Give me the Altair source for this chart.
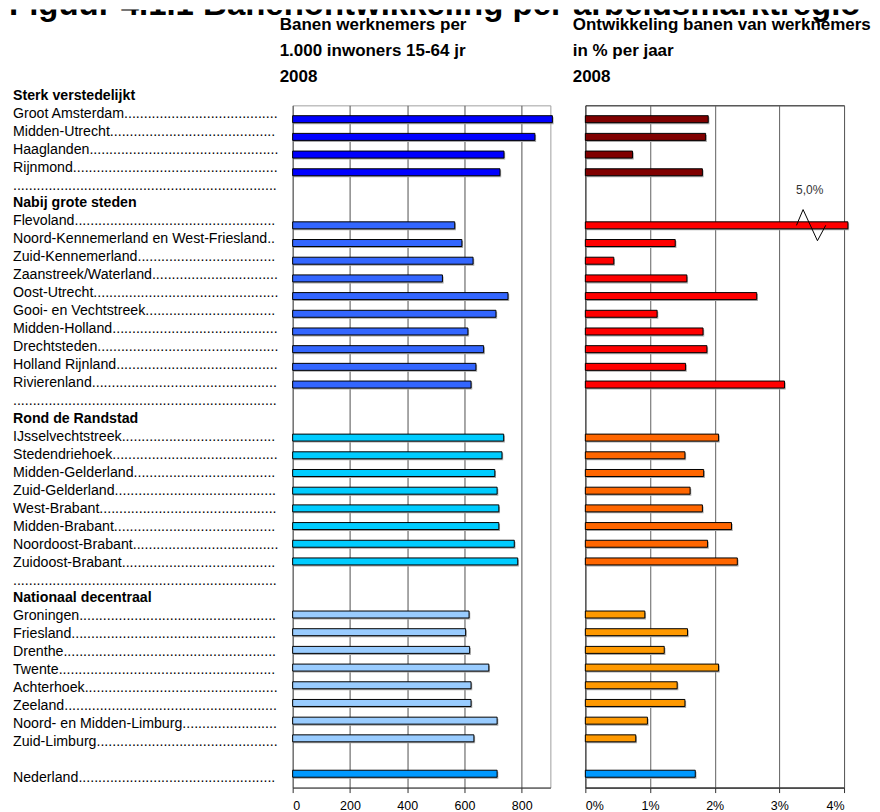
import altair as alt
import pandas as pd

FONT = "Liberation Sans"

TITLE = "Figuur 4.1.1 Banenontwikkeling per arbeidsmarktregio"
HEAD_LEFT = ["Banen werknemers per", "1.000 inwoners 15-64 jr", "2008"]
HEAD_RIGHT = ["Ontwikkeling banen van werknemers", "in % per jaar", "2008"]

groups = ["Sterk verstedelijkt", "Nabij grote steden", "Rond de Randstad", "Nationaal decentraal"]

regions_sterk = ["Groot Amsterdam", "Midden-Utrecht", "Haaglanden", "Rijnmond"]
jobs_sterk = [907, 846, 738, 724]
growth_sterk = [1.90, 1.86, 0.73, 1.81]

regions_nabij = ["Flevoland", "Noord-Kennemerland en West-Friesland", "Zuid-Kennemerland",
                 "Zaanstreek/Waterland", "Oost-Utrecht", "Gooi- en Vechtstreek", "Midden-Holland",
                 "Drechtsteden", "Holland Rijnland", "Rivierenland"]
jobs_nabij = [566, 591, 630, 523, 752, 710, 612, 667, 640, 623]
growth_nabij = [5.0, 1.39, 0.44, 1.57, 2.65, 1.11, 1.82, 1.88, 1.55, 3.08]

regions_rond = ["IJsselvechtstreek", "Stedendriehoek", "Midden-Gelderland", "Zuid-Gelderland",
                "West-Brabant", "Midden-Brabant", "Noordoost-Brabant", "Zuidoost-Brabant"]
jobs_rond = [737, 731, 706, 714, 720, 720, 774, 786]
growth_rond = [2.06, 1.54, 1.83, 1.62, 1.81, 2.26, 1.89, 2.35]

regions_nat = ["Groningen", "Friesland", "Drenthe", "Twente", "Achterhoek", "Zeeland",
               "Noord- en Midden-Limburg", "Zuid-Limburg"]
jobs_nat = [616, 604, 618, 685, 623, 623, 714, 633]
growth_nat = [0.92, 1.58, 1.22, 2.06, 1.42, 1.54, 0.96, 0.78]

total_label = "Nederland"
total_jobs = 714
total_growth = 1.70

jobs_ticks = [0, 200, 400, 600, 800]
jobs_max = 900
growth_ticks = [0, 1, 2, 3, 4]
growth_max = 4

colors_left = {"Sterk verstedelijkt": "#0000FF", "Nabij grote steden": "#3366FF",
               "Rond de Randstad": "#00CCFF", "Nationaal decentraal": "#99CCFF",
               "Nederland": "#0099FF"}
colors_right = {"Sterk verstedelijkt": "#800000", "Nabij grote steden": "#FF0000",
                "Rond de Randstad": "#FF6600", "Nationaal decentraal": "#FF9900",
                "Nederland": "#0099FF"}

# zigzag break symbol (offsets relative to the break centre, in % and rows)
zig_dx = [-0.225, -0.123, 0.099, 0.227]
zig_dy = [0.0, -0.89, 0.87, 0.0]

group_data = [
    (groups[0], regions_sterk, jobs_sterk, growth_sterk),
    (groups[1], regions_nabij, jobs_nabij, growth_nabij),
    (groups[2], regions_rond, jobs_rond, growth_rond),
    (groups[3], regions_nat, jobs_nat, growth_nat),
]

DOTS = "." * 140
rows = []
r = -1
for gi, (g, regs, jobs, grow) in enumerate(group_data):
    rows.append(dict(row=r, text=g, kind="header", group=g))
    r += 1
    for name, j, gr in zip(regs, jobs, grow):
        rows.append(dict(row=r, text=name + DOTS, kind="region", group=g, jobs=j, growth=gr))
        r += 1
    if gi < len(group_data) - 1:
        rows.append(dict(row=r, text=DOTS, kind="dots", group=g))
    r += 1
rows.append(dict(row=r, text=total_label + DOTS, kind="region", group="Nederland",
                 jobs=total_jobs, growth=total_growth))
n_rows = r + 1

df = pd.DataFrame(rows)
bars = df[df["kind"] == "region"].copy()
bars["colL"] = bars["group"].map(colors_left)
bars["colR"] = bars["group"].map(colors_right)

brk = bars[bars["growth"] > growth_max]
zig_rows = []
for _, b in brk.iterrows():
    for i, (dx, dy) in enumerate(zip(zig_dx, zig_dy)):
        zig_rows.append(dict(i=i, zx=3.49 + dx, zy=b["row"] + dy))
zig = pd.DataFrame(zig_rows)
brk_lbl = brk.copy()
brk_lbl["lx"] = 3.47
brk_lbl["ly"] = brk_lbl["row"] - 2
brk_lbl["lt"] = brk_lbl["growth"].map(lambda v: f"{v:.1f}".replace(".", ",") + "%")

H = 683
yscale = alt.Scale(domain=[-0.5, n_rows - 0.5], reverse=True, nice=False, zero=False)
Y = alt.Y("row:Q", scale=yscale, axis=None)

# ---------- labels panel
lab_base = alt.Chart(df)
lab_norm = lab_base.transform_filter("datum.kind != 'header'").mark_text(
    align="left", baseline="alphabetic", dy=3.4, fontSize=14.2, limit=266, ellipsis=".",
    font=FONT, color="black"
).encode(x=alt.value(4), y=Y, text="text:N")
lab_bold = lab_base.transform_filter("datum.kind == 'header'").mark_text(
    align="left", baseline="alphabetic", dy=3.4, fontSize=14.2, fontWeight="bold",
    font=FONT, color="black"
).encode(x=alt.value(4), y=Y, text="text:N")
labels = alt.layer(lab_norm, lab_bold).properties(
    width=249, height=H, view=alt.ViewBackground(stroke="transparent"))


def headers(lines, xoff):
    out = []
    for line, yy in zip(lines, [-75, -49, -23]):
        out.append(alt.Chart(pd.DataFrame({"t": [line]})).mark_text(
            align="left", baseline="alphabetic", fontSize=17, fontWeight="bold",
            font=FONT, color="black"
        ).encode(x=alt.value(xoff), y=alt.value(yy), text="t:N"))
    return out


# ---------- left panel
xL = alt.X("jobs:Q", scale=alt.Scale(domain=[0, jobs_max], nice=False),
           axis=alt.Axis(values=jobs_ticks, title=None, grid=True, gridColor="#505050",
                         format="d"))
left_shadow = alt.Chart(bars).mark_bar(orient="horizontal", size=7, color="#a8a8a8",
                                       xOffset=1.2, yOffset=1.5).encode(x=xL, y=Y)
left_bars = alt.Chart(bars).mark_bar(orient="horizontal", size=7, stroke="black",
                                     strokeWidth=1).encode(
    x=xL, y=Y, color=alt.Color("colL:N", scale=None))
left = alt.layer(left_shadow, left_bars, *headers(HEAD_LEFT, -13)).properties(
    width=258, height=H, view=alt.ViewBackground(stroke="#a0a0a0"))

# ---------- right panel
xR = alt.X("gshow:Q", scale=alt.Scale(domain=[0, growth_max], nice=False),
           axis=alt.Axis(values=growth_ticks, title=None, grid=True, gridColor="#606060",
                         labelExpr="datum.value + '%'"))
rb = alt.Chart(bars).transform_calculate(gshow=f"min(datum.growth, {growth_max} + 0.06)")
right_shadow = rb.mark_bar(orient="horizontal", size=7, color="#a8a8a8",
                           xOffset=1.2, yOffset=1.5).encode(x=xR, y=Y)
right_bars = rb.mark_bar(orient="horizontal", size=7, stroke="black",
                         strokeWidth=1).encode(x=xR, y=Y, color=alt.Color("colR:N", scale=None))
zz = alt.Chart(zig).mark_line(color="black", strokeWidth=1).encode(
    x=alt.X("zx:Q"), y=alt.Y("zy:Q", scale=yscale, axis=None), order="i:Q")
zl = alt.Chart(brk_lbl).mark_text(fontSize=12, font=FONT, color="#333333",
                                  baseline="middle").encode(
    x=alt.X("lx:Q"), y=alt.Y("ly:Q", scale=yscale, axis=None), text="lt:N")
right = alt.layer(right_shadow, right_bars, zz, zl, *headers(HEAD_RIGHT, -12.6)).properties(
    width=259, height=H, view=alt.ViewBackground(stroke="#000000"))

# ---------- title strip (top of the title cut off, as in the original)
title = alt.Chart(pd.DataFrame({"t": [TITLE]})).mark_text(
    align="left", baseline="alphabetic", fontSize=33, fontWeight="bold", font=FONT,
    color="black", clip=True
).encode(x=alt.value(0), y=alt.value(5.5), text="t:N").properties(
    width=856, height=16, view=alt.ViewBackground(stroke="transparent"))

row = alt.hconcat(labels, left, right, spacing=35, bounds="flush").resolve_scale(
    x="independent", y="independent")

chart = alt.vconcat(title, row, spacing=80, bounds="flush").properties(
    padding=0
).configure(font=FONT).configure_axis(
    labelFontSize=12.5, labelColor="black", labelFont=FONT, tickColor="#303030",
    domainColor="#303030", tickSize=5, labelPadding=7, gridWidth=1
)

chart.save("out.html", embed_options={"renderer": "svg", "actions": False})
